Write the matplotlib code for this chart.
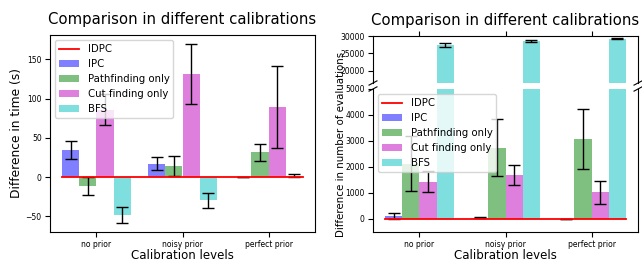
"""
Comparison of the calibration methods against IDPC:
time difference (left) and number of evaluations (right, broken axis).
"""

import matplotlib
matplotlib.use("Agg")
import matplotlib.pyplot as plt
import numpy as np

# ---------------------------------------------------------------------------- #
# DATA

levels = ["no prior", "noisy prior", "perfect prior"]
methods = ["IPC", "Pathfinding only", "Cut finding only", "BFS"]
colors = ["b", "g", "m", "c"]

# Difference in time (s)
time_mean = [
    [35, 17, 0],         # IPC
    [-11.5, 14, 31.5],   # Pathfinding only
    [86, 131, 89],       # Cut finding only
    [-48, -29.5, 2],     # BFS
]
time_err = [
    [11.5, 8.5, 0],
    [11.5, 13, 11],
    [20, 38.5, 52],
    [10.5, 9.5, 1.5],
]

# Difference in number of evaluations
eval_mean = [
    [115, 55, 0],
    [2130, 2740, 3080],
    [1430, 1690, 1030],
    [27450, 28550, 29200],
]
eval_err = [
    [100, 30, 0],
    [1045, 1095, 1140],
    [410, 400, 450],
    [550, 400, 130],
]

# ---------------------------------------------------------------------------- #
# FIGURE

W, H = 642, 261
fig = plt.figure(figsize=(W / 100, H / 100), dpi=100)


def px_rect(x0, y0, x1, y1):
    # pixel box -> figure fraction
    return [x0 / W, 1 - y1 / H, (x1 - x0) / W, (y1 - y0) / H]


x = np.arange(len(levels))
width = 0.2
offsets = [-0.3, -0.1, 0.1, 0.3]


def draw_bars(ax, means, errs, label=True):
    for k in range(len(methods)):
        ax.bar(x + offsets[k], means[k], width, yerr=errs[k], color=colors[k],
               alpha=0.5, capsize=4, error_kw=dict(ecolor="k", elinewidth=1),
               label=methods[k] if label else None)
    ax.plot([x[0] - 0.4, x[-1] + 0.4], [0, 0], color="r", lw=1.3,
            label="IDPC" if label else None)


def legend_order(ax):
    handles, labels = ax.get_legend_handles_labels()
    order = [labels.index("IDPC")] + [labels.index(m) for m in methods]
    ax.legend([handles[i] for i in order], [labels[i] for i in order],
              loc="upper left", fontsize=7.3)


tick_fs = 5.5
title_fs = 10.7

# ---------------------------------------------------------------------------- #
# LEFT: time

ax1 = fig.add_axes(px_rect(50, 35, 315, 232))
draw_bars(ax1, time_mean, time_err)
ax1.set_xticks(x)
ax1.set_xticklabels(levels)
ax1.tick_params(labelsize=tick_fs, pad=2.5)
ax1.set_xlabel("Calibration levels", fontsize=8.5, labelpad=0)
ax1.set_ylabel("Difference in time (s)", fontsize=8.8, labelpad=2)
ax1.set_title("Comparison in different calibrations", fontsize=title_fs, pad=8)
legend_order(ax1)

# ---------------------------------------------------------------------------- #
# RIGHT: evaluations, broken y axis

ax_top = fig.add_axes(px_rect(373, 36, 638, 83))
ax_bot = fig.add_axes(px_rect(373, 89, 638, 232), sharex=ax_top)

draw_bars(ax_top, eval_mean, eval_err, label=False)
draw_bars(ax_bot, eval_mean, eval_err)

ax_top.set_ylim(16500, 30000)
ax_bot.set_ylim(-500, 5000)
ax_top.set_yticks([20000, 25000, 30000])

ax_top.spines["bottom"].set_visible(False)
ax_bot.spines["top"].set_visible(False)
ax_top.xaxis.tick_top()
ax_top.tick_params(labeltop=False)
ax_bot.xaxis.tick_bottom()
ax_bot.set_xticks(x)
ax_bot.set_xticklabels(levels)
ax_top.tick_params(labelsize=tick_fs, pad=2.5)
ax_bot.tick_params(labelsize=tick_fs, pad=2.5)

# break marks
d = 0.015
kw = dict(transform=ax_top.transAxes, color="k", clip_on=False, lw=0.8)
ax_top.plot((-d, +d), (-d * 3, +d * 3), **kw)
ax_top.plot((1 - d, 1 + d), (-d * 3, +d * 3), **kw)
kw.update(transform=ax_bot.transAxes)
ax_bot.plot((-d, +d), (1 - d, 1 + d), **kw)
ax_bot.plot((1 - d, 1 + d), (1 - d, 1 + d), **kw)

ax_bot.set_xlabel("Calibration levels", fontsize=8.5, labelpad=0)
ax_bot.set_ylabel("Difference in number of evaluations", fontsize=7.4)
ax_bot.yaxis.set_label_coords(-0.1, 0.61)
ax_top.set_title("Comparison in different calibrations", fontsize=title_fs, pad=8)
legend_order(ax_bot)

fig.savefig("out.png", dpi=100)
